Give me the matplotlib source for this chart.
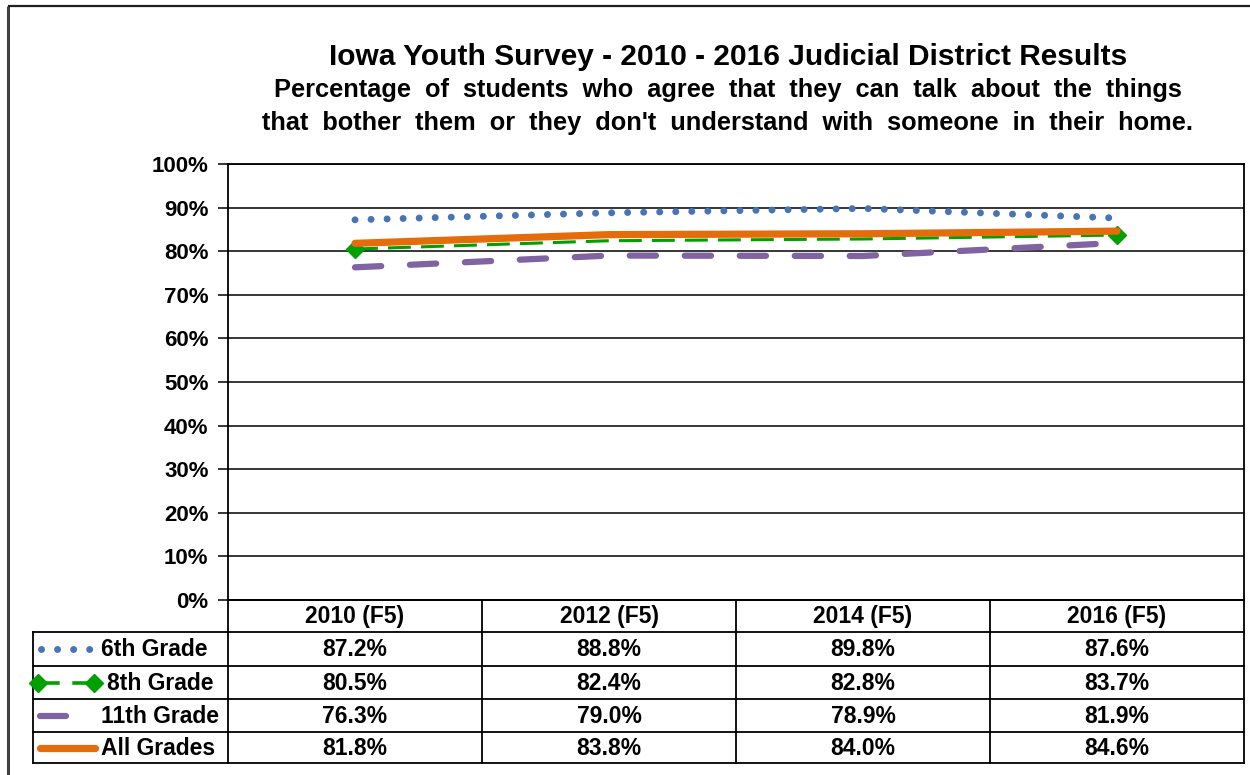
import matplotlib
matplotlib.use("Agg")
import matplotlib.pyplot as plt
from matplotlib.ticker import FuncFormatter

# ---- data ----
years = ["2010 (F5)", "2012 (F5)", "2014 (F5)", "2016 (F5)"]
grade_6 = [87.2, 88.8, 89.8, 87.6]
grade_8 = [80.5, 82.4, 82.8, 83.7]
grade_11 = [76.3, 79.0, 78.9, 81.9]
all_grades = [81.8, 83.8, 84.0, 84.6]
series_names = ["6th Grade", "8th Grade", "11th Grade", "All Grades"]

title = "Iowa Youth Survey - 2010 - 2016 Judicial District Results"
subtitle_1 = "Percentage  of  students  who  agree  that  they  can  talk  about  the  things"
subtitle_2 = "that  bother  them  or  they  don't  understand  with  someone  in  their  home."

BLUE = "#4674B4"
GREEN = "#00A000"
PURPLE = "#8064A2"
ORANGE = "#E46C0A"

W, H = 1250, 775
plt.rcParams['font.family'] = ['Liberation Sans', 'DejaVu Sans']
fig = plt.figure(figsize=(W / 100, H / 100), dpi=100)

# overlay axes in pixel coordinates (frame, table, legend samples)
pax = fig.add_axes([0, 0, 1, 1], zorder=5)
pax.set_xlim(0, W)
pax.set_ylim(H, 0)
pax.axis('off')
pax.patch.set_alpha(0)

# outer chart frame (only left and top visible)
pax.plot([8, 8], [6, H], color='#404040', lw=2.2, solid_capstyle='butt')
pax.plot([8, W], [6, 6], color='#202020', lw=1.6, solid_capstyle='butt')

# ---- plot area ----
L, R, T, B = 228, 1244, 164, 600
ax = fig.add_axes([L / W, (H - B) / H, (R - L) / W, (B - T) / H])
x = list(range(len(years)))
ax.set_xlim(-0.5, len(years) - 0.5)
ax.set_ylim(0, 1)
ax.set_yticks([i / 10 for i in range(11)])
ax.yaxis.set_major_formatter(FuncFormatter(lambda v, p: f"{v * 100:.0f}%"))
ax.set_xticks([])
ax.grid(axis='y', color='black', lw=1.1)
ax.set_axisbelow(True)
for s in ax.spines.values():
    s.set_color('black')
    s.set_linewidth(1.3)
ax.tick_params(axis='y', direction='out', length=7, width=1.1, pad=7,
               labelsize=16)
for lab in ax.get_yticklabels():
    lab.set_fontweight('bold')

# series
dots = (0, (0.01, 2.3))
ax.plot(x, [v / 100 for v in grade_6], color=BLUE, lw=5,
        linestyle=dots, dash_capstyle='round')
ax.plot(x, [v / 100 for v in grade_8], color=GREEN, lw=2.2,
        linestyle=(0, (7.5, 3.3)))
ax.plot([x[0], x[-1]], [grade_8[0] / 100, grade_8[-1] / 100], linestyle='none',
        marker='D', ms=9, color=GREEN)
ax.plot(x, [v / 100 for v in grade_11], color=PURPLE, lw=4.5,
        linestyle=(0, (4.2, 4.6)), dash_capstyle='round')
ax.plot(x, [v / 100 for v in all_grades], color=ORANGE, lw=5.2,
        solid_capstyle='round')

# ---- titles ----
cx = 728
pax.text(cx, 57, title, ha='center', va='center', fontsize=21.5,
         fontweight='bold', family=['Liberation Sans Narrow', 'Liberation Sans'])
pax.text(cx, 90, subtitle_1, ha='center', va='center', fontsize=18.3,
         fontweight='bold')
pax.text(cx, 123, subtitle_2, ha='center', va='center', fontsize=18.3,
         fontweight='bold')

# ---- data table below the plot ----
col_w = (R - L) / len(years)
col_edges = [L + i * col_w for i in range(len(years) + 1)]
row_edges = [B, 632, 666, 699, 732, 763]
TL = 33
lc = 'black'
lw = 1.3
pax.plot([L, R], [row_edges[0], row_edges[0]], color=lc, lw=lw)
for yy in row_edges[1:]:
    pax.plot([TL, R], [yy, yy], color=lc, lw=lw)
pax.plot([TL, TL], [row_edges[1], row_edges[-1]], color=lc, lw=lw)
for xx in col_edges:
    pax.plot([xx, xx], [row_edges[0], row_edges[-1]], color=lc, lw=lw)

fs = 16.5
for i, yr in enumerate(years):
    xc = (col_edges[i] + col_edges[i + 1]) / 2
    pax.text(xc, (row_edges[0] + row_edges[1]) / 2 + 1, yr, ha='center',
             va='center', fontsize=fs, fontweight='bold')

table_values = [grade_6, grade_8, grade_11, all_grades]
name_x = [154, 160, 160, 158]
for r, (name, vals) in enumerate(zip(series_names, table_values)):
    yc = (row_edges[r + 1] + row_edges[r + 2]) / 2 + 1
    pax.text(name_x[r], yc, name, ha='center', va='center', fontsize=fs,
             fontweight='bold')
    for i, v in enumerate(vals):
        xc = (col_edges[i] + col_edges[i + 1]) / 2
        pax.text(xc, yc, f"{v:.1f}%", ha='center', va='center', fontsize=fs,
                 fontweight='bold')

# legend keys inside the table
ky = [(row_edges[r + 1] + row_edges[r + 2]) / 2 for r in range(4)]
pax.plot([41, 90], [ky[0], ky[0]], color=BLUE, lw=5,
         linestyle=dots, dash_capstyle='round')
pax.plot([38, 94], [ky[1], ky[1]], color=GREEN, lw=2.6,
         linestyle=(0, (6, 3.5)))
pax.plot([38, 94], [ky[1], ky[1]], linestyle='none', marker='D', ms=9,
         color=GREEN)
pax.plot([40, 66], [ky[2], ky[2]], color=PURPLE, lw=4.5,
         solid_capstyle='round')
pax.plot([40, 95], [ky[3], ky[3]], color=ORANGE, lw=5.2,
         solid_capstyle='round')

fig.savefig("out.png", dpi=100)
